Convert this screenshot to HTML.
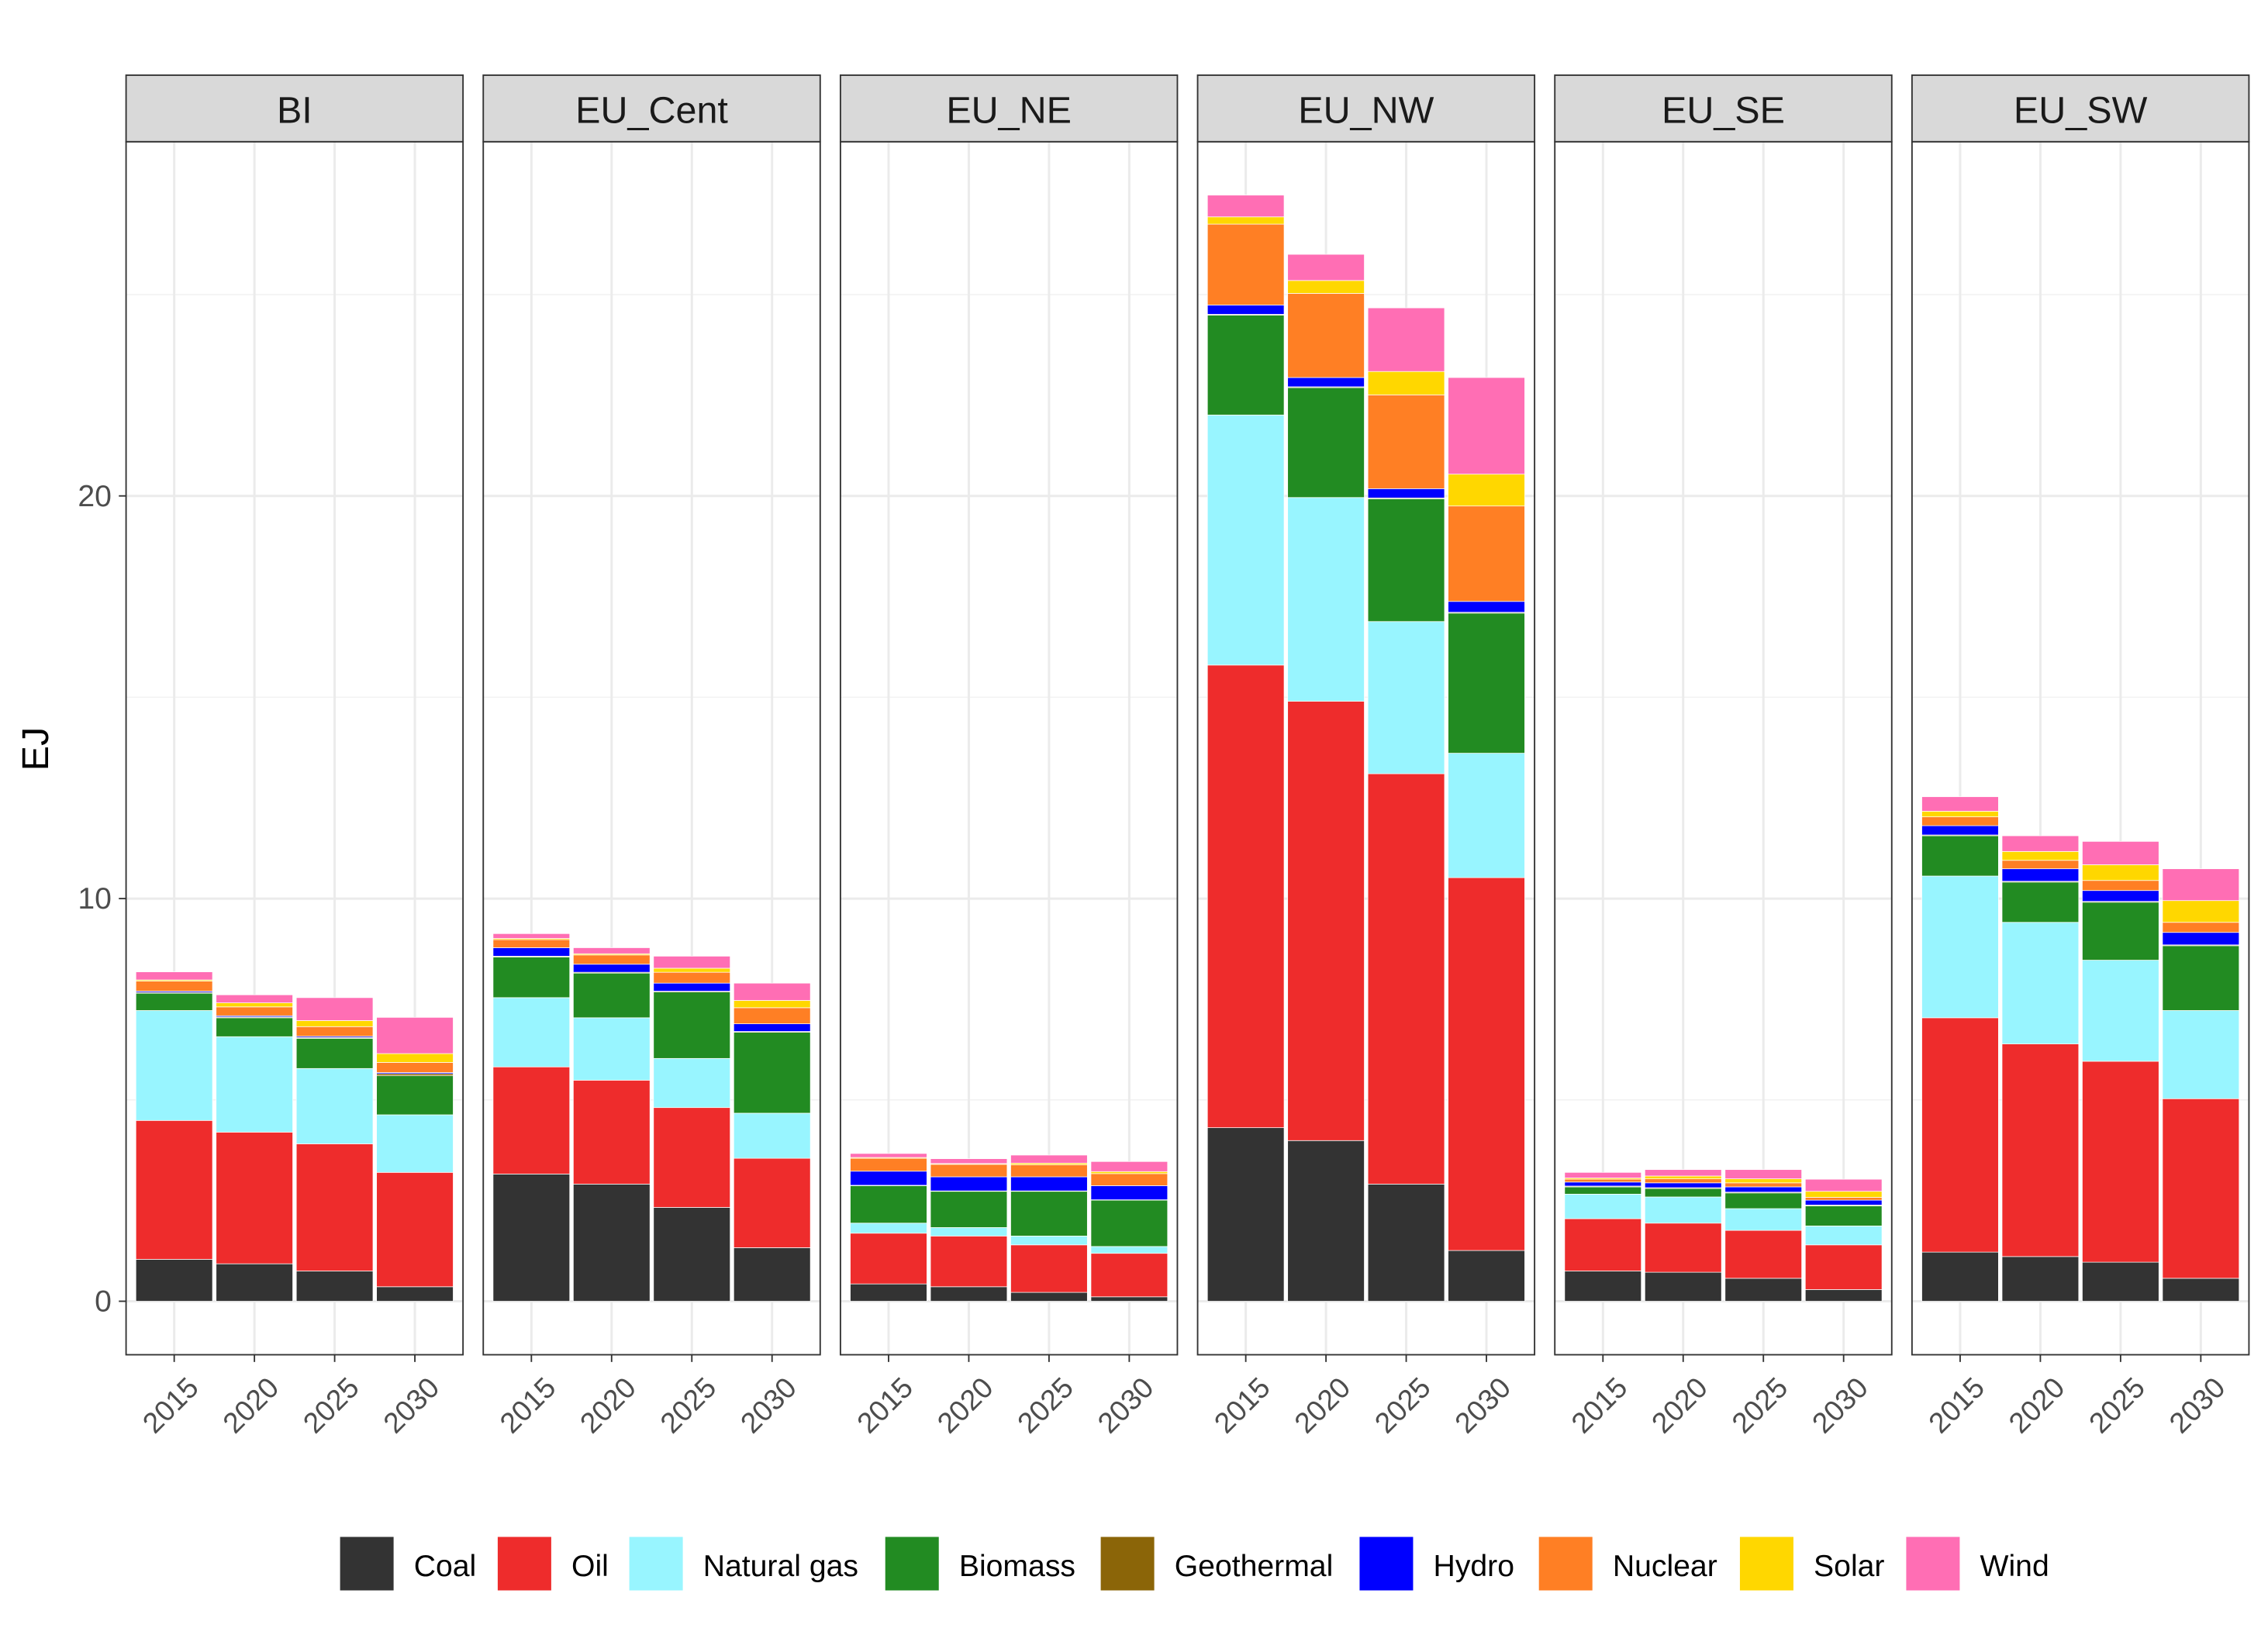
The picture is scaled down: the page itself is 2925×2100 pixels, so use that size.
<!DOCTYPE html>
<html><head><meta charset="utf-8"><style>
html,body{margin:0;padding:0;background:#fff;}
svg{display:block;font-family:"Liberation Sans",Arial,sans-serif;}
</style></head><body>
<svg id="chart" width="2925" height="2100" viewBox="0 0 1568 1126" xmlns="http://www.w3.org/2000/svg">
<rect width="1568" height="1126" fill="#fff"/>
</svg>
<script>
const regions = ["BI","EU_Cent","EU_NE","EU_NW","EU_SE","EU_SW"];
const years = ["2015","2020","2025","2030"];
const fuels = ["Coal","Oil","Natural gas","Biomass","Geothermal","Hydro","Nuclear","Solar","Wind"];
const yTicks = [0,10,20];
// values per region: each row = year, columns = fuels (EJ)
const valBI = [
 [1.04,3.45,2.73,0.43,0.02,0.03,0.25,0.03,0.2],
 [0.93,3.27,2.37,0.47,0.02,0.03,0.22,0.1,0.2],
 [0.75,3.16,1.87,0.75,0.02,0.03,0.24,0.15,0.57],
 [0.36,2.84,1.43,0.97,0.05,0.03,0.25,0.22,0.9]];
const valEU_Cent = [
 [3.16,2.66,1.72,1.01,0.02,0.21,0.2,0.03,0.12],
 [2.91,2.58,1.55,1.11,0.02,0.2,0.23,0.03,0.15],
 [2.33,2.48,1.22,1.65,0.02,0.2,0.27,0.1,0.3],
 [1.33,2.22,1.12,2.01,0.02,0.19,0.4,0.18,0.43]];
const valEU_NE = [
 [0.43,1.26,0.25,0.93,0.01,0.35,0.32,0.02,0.1],
 [0.36,1.26,0.21,0.9,0.01,0.35,0.31,0.02,0.12],
 [0.22,1.18,0.22,1.11,0.01,0.35,0.3,0.04,0.2],
 [0.11,1.08,0.17,1.15,0.01,0.35,0.3,0.05,0.25]];
const valEU_NW = [
 [4.31,11.49,6.21,2.48,0.02,0.23,2.01,0.18,0.54],
 [3.99,10.91,5.06,2.73,0.02,0.23,2.09,0.32,0.65],
 [2.91,10.19,3.78,3.05,0.02,0.23,2.33,0.58,1.58],
 [1.26,9.26,3.09,3.48,0.02,0.27,2.37,0.79,2.4]];
const valEU_SE = [
 [0.75,1.3,0.61,0.18,0.02,0.1,0.07,0.03,0.14],
 [0.72,1.22,0.65,0.21,0.02,0.12,0.1,0.07,0.16],
 [0.57,1.19,0.54,0.39,0.02,0.13,0.1,0.1,0.23],
 [0.29,1.11,0.47,0.5,0.02,0.12,0.07,0.15,0.3]];
const valEU_SW = [
 [1.22,5.82,3.52,1.0,0.02,0.23,0.22,0.14,0.36],
 [1.11,5.28,3.02,1.0,0.02,0.31,0.21,0.22,0.39],
 [0.97,4.99,2.51,1.44,0.02,0.27,0.25,0.39,0.58],
 [0.57,4.46,2.19,1.61,0.02,0.31,0.25,0.54,0.79]];
const allVals = [valBI,valEU_Cent,valEU_NE,valEU_NW,valEU_SE,valEU_SW];
const colors = ["#333333","#ee2c2c","#98f5ff","#228b22","#8b6508","#0000ff","#ff7f24","#ffd700","#ff6eb4"];

const NS="http://www.w3.org/2000/svg";
const svg=document.getElementById('chart');
function mk(tag,attrs,parent){const e=document.createElementNS(NS,tag);for(const k in attrs)e.setAttribute(k,attrs[k]);(parent||svg).appendChild(e);return e;}
const panelLeft=[87,334,581,828,1075,1322], panelW=233, pTop=98, pBot=937, stripTop=52;
function yScale(v){return 900 - v*27.85;}
function xScale(p,i){return panelLeft[p] + panelW*(0.6+i)/4.2;}
const barW=53;

regions.forEach((r,p)=>{
  const g=mk('g',{});
  
  
  mk('rect',{x:panelLeft[p],y:pTop,width:panelW,height:pBot-pTop,fill:'#fff'},g);
  [5,15,25].forEach(v=>mk('line',{x1:panelLeft[p],x2:panelLeft[p]+panelW,y1:yScale(v),y2:yScale(v),stroke:'#f2f2f2','stroke-width':0.8},g));
  yTicks.forEach(v=>mk('line',{x1:panelLeft[p],x2:panelLeft[p]+panelW,y1:yScale(v),y2:yScale(v),stroke:'#ebebeb','stroke-width':1.6},g));
  years.forEach((y,i)=>mk('line',{x1:xScale(p,i),x2:xScale(p,i),y1:pTop,y2:pBot,stroke:'#ebebeb','stroke-width':1.6},g));
  const vals=allVals[p];
  years.forEach((y,i)=>{
    let cum=0;
    fuels.forEach((f,k)=>{
      const v=vals[i][k];
      const rect=mk('rect',{x:xScale(p,i)-barW/2,y:yScale(cum+v),width:barW,height:Math.max(0,yScale(cum)-yScale(cum+v)),fill:colors[k],stroke:'#fff','stroke-width':0.4},g);
      
      
      cum+=v;
    });
    mk('line',{x1:xScale(p,i),x2:xScale(p,i),y1:pBot,y2:pBot+5,stroke:'#333','stroke-width':1},g);
    const t=mk('text',{x:0,y:0,'font-size':20,fill:'#4d4d4d','text-anchor':'end',transform:`translate(${xScale(p,i)+18},${pBot+24}) rotate(-45)`},g);
    t.textContent=y;
    
    
  });
  mk('rect',{x:panelLeft[p],y:pTop,width:panelW,height:pBot-pTop,fill:'none',stroke:'#333','stroke-width':1},g);
  const s=mk('rect',{x:panelLeft[p],y:stripTop,width:panelW,height:pTop-stripTop,fill:'#d9d9d9',stroke:'#333','stroke-width':1},g);
  
  
  const st=mk('text',{x:panelLeft[p]+panelW/2,y:85,'font-size':26,fill:'#1a1a1a','text-anchor':'middle'},g);
  st.textContent=r;
  
  
});
yTicks.forEach(v=>{
  mk('line',{x1:82,x2:87,y1:yScale(v),y2:yScale(v),stroke:'#333','stroke-width':1});
  const t=mk('text',{x:77,y:yScale(v)+7,'font-size':21,fill:'#4d4d4d','text-anchor':'end'});
  t.textContent=v;
  
  
});
const yt=mk('text',{x:0,y:0,'font-size':26,fill:'#000','text-anchor':'middle',transform:'translate(33,518) rotate(-90)'});
yt.textContent='EJ';



const keyX=[235,344,435,612,761,940,1064,1203,1318];
fuels.forEach((f,k)=>{
  const g=mk('g',{});
  
  
  mk('rect',{x:keyX[k],y:1063,width:37,height:37,fill:colors[k]},g);
  const t=mk('text',{x:keyX[k]+51,y:1090,'font-size':21,fill:'#000'},g);
  t.textContent=f;
});
</script>
</body></html>
